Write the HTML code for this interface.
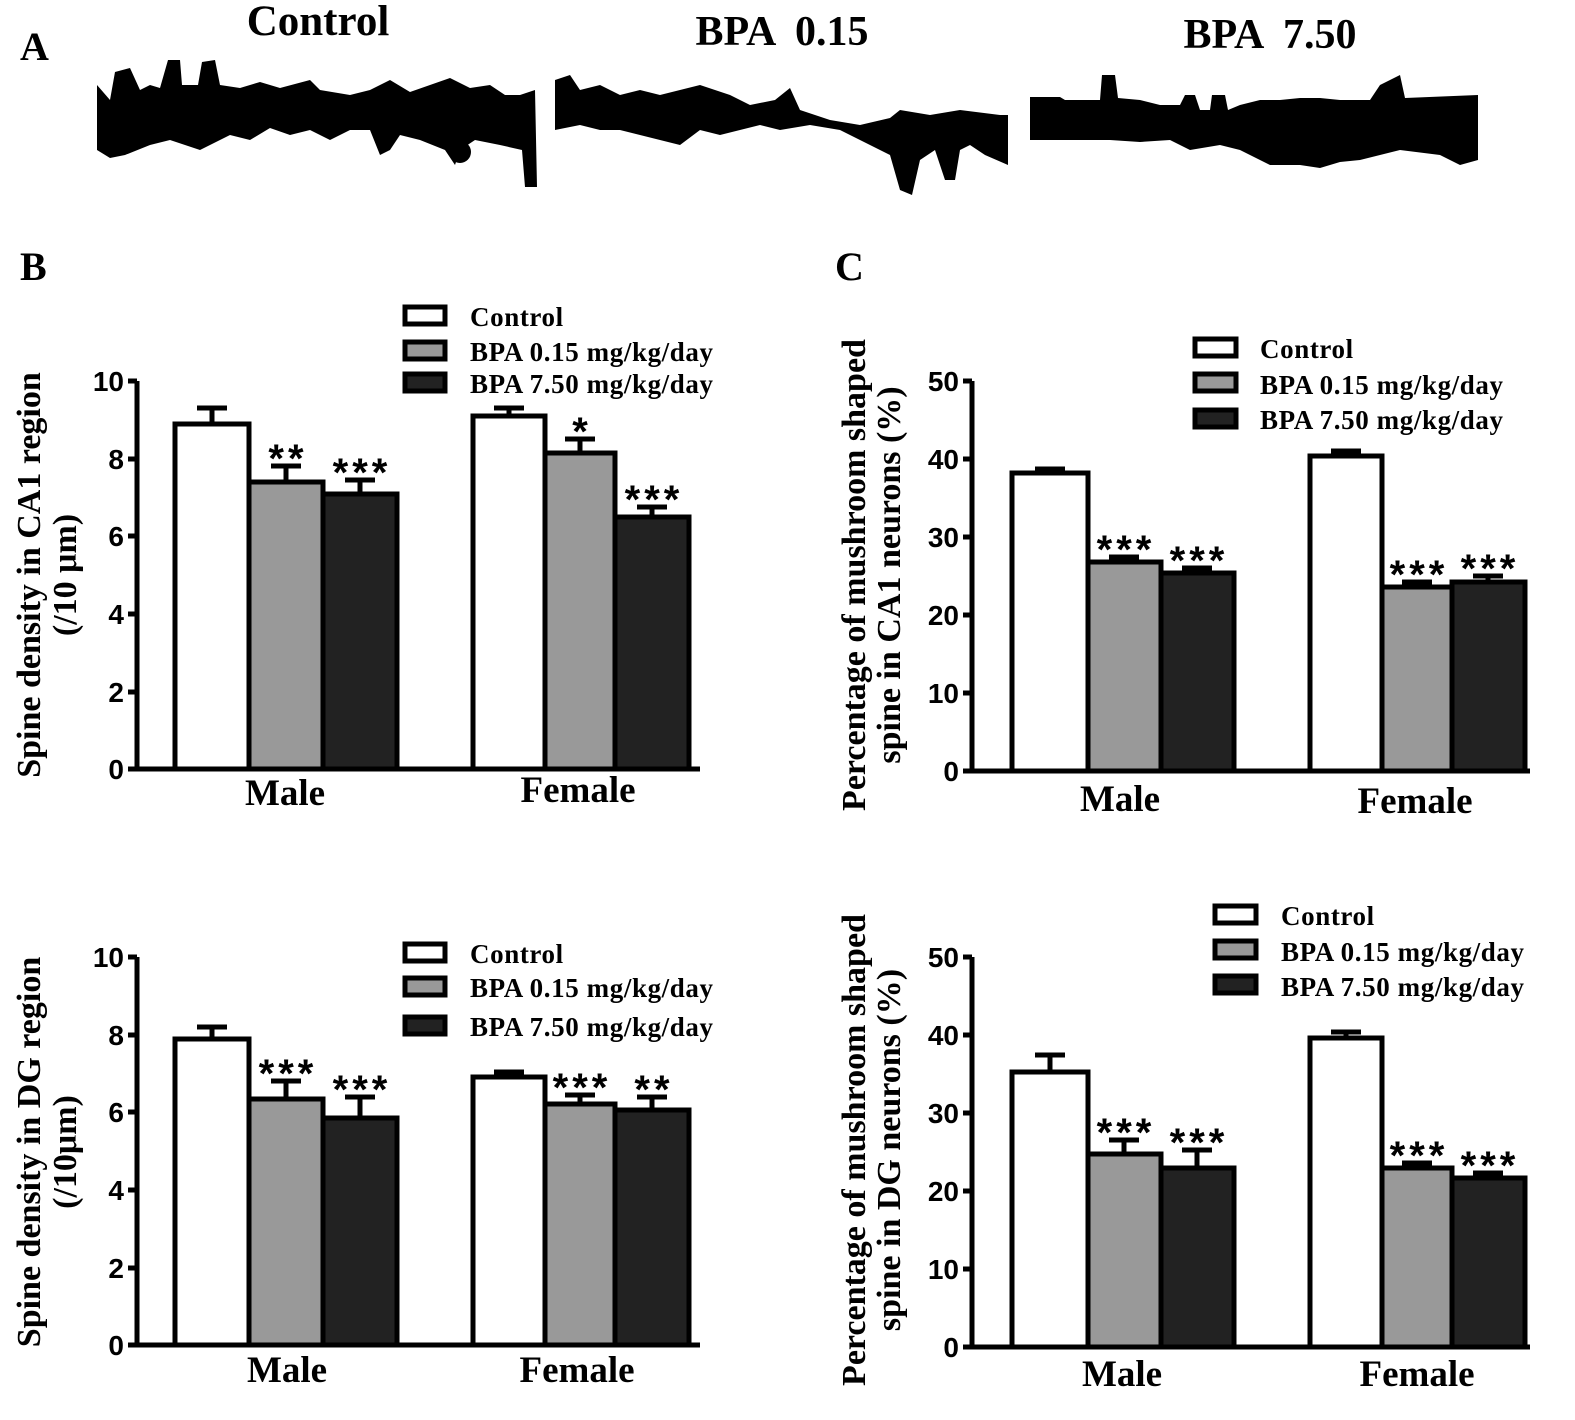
<!DOCTYPE html>
<html><head><meta charset="utf-8"><style>
html,body{margin:0;padding:0;background:#fff;}
svg{display:block;}
.s{font-family:"Liberation Sans",sans-serif;font-weight:bold;}
.r{font-family:"Liberation Serif",serif;font-weight:bold;}
</style></head><body>
<svg width="1575" height="1420" viewBox="0 0 1575 1420" xmlns="http://www.w3.org/2000/svg">
<text class="r" x="20" y="60" font-size="40">A</text>
<text class="r" x="318" y="35" font-size="43" text-anchor="middle">Control</text>
<text class="r" x="782" y="45" font-size="42" text-anchor="middle" xml:space="preserve">BPA  0.15</text>
<text class="r" x="1270" y="48" font-size="42" text-anchor="middle" xml:space="preserve">BPA  7.50</text>
<polygon fill="#000" points="97,85 110,100 115,72 130,68 140,90 150,85 160,88 168,60 180,60 182,85 198,85 202,62 215,60 220,85 240,88 260,82 280,88 310,80 320,90 350,95 370,90 390,80 410,92 430,85 450,78 470,88 490,85 505,95 520,95 535,90 537,187 525,187 522,150 500,145 475,140 460,150 455,165 445,150 420,140 400,135 390,150 380,155 370,130 350,130 330,140 310,130 290,135 270,128 250,140 230,135 200,150 170,140 150,145 125,155 110,158 97,150"/>
<circle cx="460" cy="152" r="11" fill="#000"/>
<polygon fill="#000" points="555,80 570,75 580,90 600,85 620,95 640,90 660,95 700,85 730,95 750,105 775,100 790,88 800,110 830,120 860,125 890,118 900,110 930,115 960,110 1000,115 1008,115 1008,165 985,155 970,145 960,150 955,180 945,180 935,150 920,160 912,195 900,190 890,155 860,140 840,130 810,125 780,130 760,125 720,135 700,130 680,145 660,140 640,135 620,130 600,130 580,125 555,130"/>
<polygon fill="#000" points="1030,97 1060,97 1065,100 1100,100 1102,75 1115,75 1118,98 1140,100 1160,105 1180,105 1185,95 1195,95 1200,110 1210,110 1212,95 1225,95 1228,110 1240,105 1260,100 1280,100 1300,98 1320,98 1340,100 1370,100 1380,85 1390,80 1400,75 1405,98 1478,95 1478,160 1460,165 1440,155 1400,150 1380,155 1360,160 1340,162 1320,168 1300,165 1270,165 1240,150 1220,145 1190,150 1170,140 1140,142 1110,140 1080,140 1060,140 1030,140"/>

<text class="r" x="20" y="280" font-size="40">B</text>
<text class="r" x="835" y="280" font-size="40">C</text>

<g stroke="#000" stroke-width="5" fill="none">
<path d="M137,381 V771 M137,769 H700 M128,381 H137 M128,459 H137 M128,536 H137 M128,614 H137 M128,692 H137 M128,769 H137"/>
<path d="M137,957 V1347 M137,1345 H700 M128,957 H137 M128,1035 H137 M128,1112 H137 M128,1190 H137 M128,1268 H137 M128,1345 H137"/>
<path d="M972,381 V773 M972,771 H1530 M963,381 H972 M963,459 H972 M963,537 H972 M963,615 H972 M963,693 H972 M963,771 H972"/>
<path d="M972,957 V1349 M972,1347 H1530 M963,957 H972 M963,1035 H972 M963,1113 H972 M963,1191 H972 M963,1269 H972 M963,1347 H972"/>
</g>

<g class="s" font-size="28" text-anchor="end">
<text x="124" y="391">10</text><text x="124" y="469">8</text><text x="124" y="546">6</text><text x="124" y="624">4</text><text x="124" y="702">2</text><text x="124" y="779">0</text>
<text x="124" y="967">10</text><text x="124" y="1045">8</text><text x="124" y="1122">6</text><text x="124" y="1200">4</text><text x="124" y="1278">2</text><text x="124" y="1355">0</text>
<text x="959" y="391">50</text><text x="959" y="469">40</text><text x="959" y="547">30</text><text x="959" y="625">20</text><text x="959" y="703">10</text><text x="959" y="781">0</text>
<text x="959" y="967">50</text><text x="959" y="1045">40</text><text x="959" y="1123">30</text><text x="959" y="1201">20</text><text x="959" y="1279">10</text><text x="959" y="1357">0</text>
</g>

<g stroke="#000" stroke-width="5">
<path d="M212,424 V408 M197,408 H227 M286,482 V466 M271,466 H301 M360,494 V480 M345,480 H375 M509,416 V408 M494,408 H524 M580,453 V439 M565,439 H595 M652,517 V507 M637,507 H667"/>
<path d="M212,1039 V1027 M197,1027 H227 M286,1099 V1081 M271,1081 H301 M360,1118 V1097 M345,1097 H375 M509,1077 V1072 M494,1072 H524 M580,1104 V1095 M565,1095 H595 M652,1110 V1097 M637,1097 H667"/>
<path d="M1050,473 V469 M1035,469 H1065 M1124,562 V557 M1109,557 H1139 M1197,573 V568 M1182,568 H1212 M1346,456 V451 M1331,451 H1361 M1417,587 V582 M1402,582 H1432 M1488,582 V576 M1473,576 H1503"/>
<path d="M1050,1072 V1055 M1035,1055 H1065 M1124,1154 V1140 M1109,1140 H1139 M1197,1168 V1150 M1182,1150 H1212 M1346,1038 V1032 M1331,1032 H1361 M1417,1168 V1163 M1402,1163 H1432 M1488,1178 V1173 M1473,1173 H1503"/>
</g>

<g stroke="#000" stroke-width="5">
<rect x="175" y="424" width="74" height="345" fill="#fff"/>
<rect x="249" y="482" width="74" height="287" fill="#999"/>
<rect x="323" y="494" width="74" height="275" fill="#222"/>
<rect x="473" y="416" width="72" height="353" fill="#fff"/>
<rect x="545" y="453" width="70" height="316" fill="#999"/>
<rect x="615" y="517" width="74" height="252" fill="#222"/>
<rect x="175" y="1039" width="74" height="306" fill="#fff"/>
<rect x="249" y="1099" width="74" height="246" fill="#999"/>
<rect x="323" y="1118" width="74" height="227" fill="#222"/>
<rect x="473" y="1077" width="72" height="268" fill="#fff"/>
<rect x="545" y="1104" width="70" height="241" fill="#999"/>
<rect x="615" y="1110" width="74" height="235" fill="#222"/>
<rect x="1012" y="473" width="76" height="298" fill="#fff"/>
<rect x="1088" y="562" width="73" height="209" fill="#999"/>
<rect x="1161" y="573" width="73" height="198" fill="#222"/>
<rect x="1310" y="456" width="72" height="315" fill="#fff"/>
<rect x="1382" y="587" width="70" height="184" fill="#999"/>
<rect x="1452" y="582" width="73" height="189" fill="#222"/>
<rect x="1012" y="1072" width="76" height="275" fill="#fff"/>
<rect x="1088" y="1154" width="73" height="193" fill="#999"/>
<rect x="1161" y="1168" width="73" height="179" fill="#222"/>
<rect x="1310" y="1038" width="72" height="309" fill="#fff"/>
<rect x="1382" y="1168" width="70" height="179" fill="#999"/>
<rect x="1452" y="1178" width="73" height="169" fill="#222"/>
</g>

<g class="s" font-size="40" text-anchor="middle" letter-spacing="4">
<text x="288" y="472">**</text><text x="362" y="486">***</text><text x="582" y="445">*</text><text x="654" y="513">***</text>
<text x="288" y="1087">***</text><text x="362" y="1103">***</text><text x="582" y="1101">***</text><text x="654" y="1103">**</text>
<text x="1126" y="563">***</text><text x="1199" y="574">***</text><text x="1419" y="588">***</text><text x="1490" y="582">***</text>
<text x="1126" y="1146">***</text><text x="1199" y="1156">***</text><text x="1419" y="1169">***</text><text x="1490" y="1179">***</text>
</g>

<g class="r" font-size="37" text-anchor="middle">
<text x="285" y="805">Male</text><text x="578" y="802">Female</text>
<text x="287" y="1382">Male</text><text x="577" y="1382">Female</text>
<text x="1120" y="811">Male</text><text x="1415" y="813">Female</text>
<text x="1122" y="1386">Male</text><text x="1417" y="1386">Female</text>
</g>

<g stroke="#000" stroke-width="5">
<rect x="405" y="307" width="40" height="17" fill="#fff"/><rect x="405" y="342" width="40" height="17" fill="#999"/><rect x="405" y="374" width="40" height="17" fill="#222"/>
<rect x="405" y="944" width="40" height="17" fill="#fff"/><rect x="405" y="978" width="40" height="17" fill="#999"/><rect x="405" y="1017" width="40" height="17" fill="#222"/>
<rect x="1195" y="339" width="41" height="17" fill="#fff"/><rect x="1195" y="374" width="41" height="17" fill="#999"/><rect x="1195" y="410" width="41" height="17" fill="#222"/>
<rect x="1215" y="906" width="41" height="17" fill="#fff"/><rect x="1215" y="941" width="41" height="17" fill="#999"/><rect x="1215" y="976" width="41" height="17" fill="#222"/>
</g>
<g class="r" font-size="27" letter-spacing="0.6">
<text x="470" y="326">Control</text><text x="470" y="361">BPA 0.15 mg/kg/day</text><text x="470" y="393">BPA 7.50 mg/kg/day</text>
<text x="470" y="963">Control</text><text x="470" y="997">BPA 0.15 mg/kg/day</text><text x="470" y="1036">BPA 7.50 mg/kg/day</text>
<text x="1260" y="358">Control</text><text x="1260" y="394">BPA 0.15 mg/kg/day</text><text x="1260" y="429">BPA 7.50 mg/kg/day</text>
<text x="1281" y="925">Control</text><text x="1281" y="961">BPA 0.15 mg/kg/day</text><text x="1281" y="996">BPA 7.50 mg/kg/day</text>
</g>

<g class="r" font-size="34" text-anchor="middle">
<text transform="translate(40,575) rotate(-90)">Spine density in CA1 region</text>
<text transform="translate(76,575) rotate(-90)">(/10 μm)</text>
<text transform="translate(40,1152) rotate(-90)">Spine density in DG region</text>
<text transform="translate(76,1152) rotate(-90)">(/10μm)</text>
<text transform="translate(865,575) rotate(-90)">Percentage of mushroom shaped</text>
<text transform="translate(900,575) rotate(-90)">spine in CA1 neurons (%)</text>
<text transform="translate(865,1150) rotate(-90)">Percentage of mushroom shaped</text>
<text transform="translate(900,1150) rotate(-90)">spine in DG neurons (%)</text>
</g>
</svg>
</body></html>
